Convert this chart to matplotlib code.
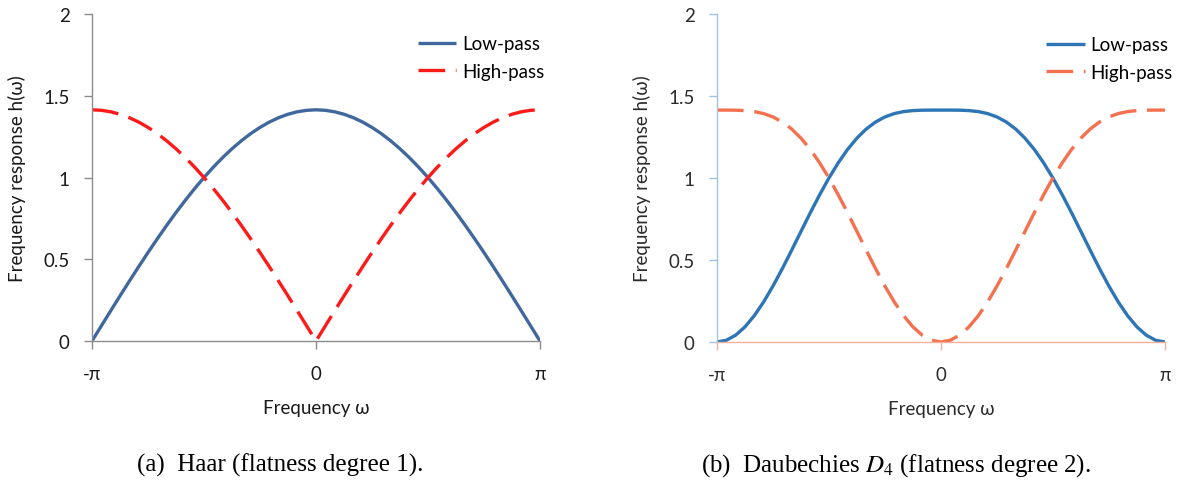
import numpy as np
import matplotlib
matplotlib.use('Agg')
import matplotlib.pyplot as plt

# sample positions, in units of pi (-1 .. 1, step 1/24)
omega = [k / 24 for k in range(-24, 25)]

# Haar filter response
haar_low = [0.0, 0.0925, 0.1846, 0.2759, 0.3660, 0.4546, 0.5412, 0.6255, 0.7071, 0.7857, 0.8609, 0.9325,
            1.0, 1.0633, 1.1220, 1.1759, 1.2247, 1.2684, 1.3066, 1.3392, 1.3660, 1.3870, 1.4021, 1.4112,
            1.4142,
            1.4112, 1.4021, 1.3870, 1.3660, 1.3392, 1.3066, 1.2684, 1.2247, 1.1759, 1.1220, 1.0633, 1.0,
            0.9325, 0.8609, 0.7857, 0.7071, 0.6255, 0.5412, 0.4546, 0.3660, 0.2759, 0.1846, 0.0925, 0.0]
haar_high = [1.4142, 1.4112, 1.4021, 1.3870, 1.3660, 1.3392, 1.3066, 1.2684, 1.2247, 1.1759, 1.1220, 1.0633,
             1.0, 0.9325, 0.8609, 0.7857, 0.7071, 0.6255, 0.5412, 0.4546, 0.3660, 0.2759, 0.1846, 0.0925,
             0.0,
             0.0925, 0.1846, 0.2759, 0.3660, 0.4546, 0.5412, 0.6255, 0.7071, 0.7857, 0.8609, 0.9325, 1.0,
             1.0633, 1.1220, 1.1759, 1.2247, 1.2684, 1.3066, 1.3392, 1.3660, 1.3870, 1.4021, 1.4112, 1.4142]

# Daubechies D4 response
d4_low = [0.0, 0.0105, 0.0415, 0.0920, 0.1604, 0.2442, 0.3408, 0.4468, 0.5590, 0.6738, 0.7877, 0.8974,
          1.0, 1.0930, 1.1746, 1.2434, 1.2990, 1.3418, 1.3725, 1.3930, 1.4051, 1.4112, 1.4136, 1.4142,
          1.4142,
          1.4142, 1.4136, 1.4112, 1.4051, 1.3930, 1.3725, 1.3418, 1.2990, 1.2434, 1.1746, 1.0930, 1.0,
          0.8974, 0.7877, 0.6738, 0.5590, 0.4468, 0.3408, 0.2442, 0.1604, 0.0920, 0.0415, 0.0105, 0.0]
d4_high = [1.4142, 1.4142, 1.4136, 1.4112, 1.4051, 1.3930, 1.3725, 1.3418, 1.2990, 1.2434, 1.1746, 1.0930,
           1.0, 0.8974, 0.7877, 0.6738, 0.5590, 0.4468, 0.3408, 0.2442, 0.1604, 0.0920, 0.0415, 0.0105,
           0.0,
           0.0105, 0.0415, 0.0920, 0.1604, 0.2442, 0.3408, 0.4468, 0.5590, 0.6738, 0.7877, 0.8974, 1.0,
           1.0930, 1.1746, 1.2434, 1.2990, 1.3418, 1.3725, 1.3930, 1.4051, 1.4112, 1.4136, 1.4142, 1.4142]

xtick_vals = [-1, 0, 1]
xtick_labels = ['-π', '0', 'π']
ytick_vals = [0, 0.5, 1, 1.5, 2]
ytick_labels = ['0', '0.5', '1', '1.5', '2']

plt.rcParams['font.family'] = ['Lato', 'DejaVu Sans']

fig = plt.figure(figsize=(11.87, 4.85), dpi=100)

panels = [
    # axes rect, low, high, line colours, y spine, x spine, text colour, caption, caption x, legend pos
    ([0.0775, 0.2948, 0.3774, 0.6742], haar_low, haar_high, '#41689c', '#ff1a1a', '#8c8c8c', '#8c8c8c',
     '#1a1a1a', '(a)  Haar (flatness degree 1).', 0.236, (0.352, 0.925)),
    ([0.6040, 0.2928, 0.3774, 0.6762], d4_low, d4_high, '#2e75b6', '#f4714f', '#9ec3e3', '#f5b09a',
     '#2b2b2b', '(b)  Daubechies $D_4$ (flatness degree 2).', 0.755, (0.8815, 0.923)),
]

for rect, low, high, c_low, c_high, c_yspine, c_xspine, c_text, caption, cap_x, leg_pos in panels:
    ax = fig.add_axes(rect)
    ax.plot(omega, low, color=c_low, lw=2.4, label='Low-pass', solid_capstyle='butt')
    ax.plot(omega, high, color=c_high, lw=2.4, label='High-pass', dashes=(8, 3.2))
    ax.set_xlim(-1, 1)
    ax.set_ylim(0, 2)
    ax.set_xticks(xtick_vals)
    ax.set_xticklabels(xtick_labels)
    ax.set_yticks(ytick_vals)
    ax.set_yticklabels(ytick_labels)
    for side in ['top', 'right']:
        ax.spines[side].set_visible(False)
    ax.spines['left'].set_color(c_yspine)
    ax.spines['bottom'].set_color(c_xspine)
    ax.spines['left'].set_linewidth(1.0)
    ax.spines['bottom'].set_linewidth(1.0)
    ax.tick_params(axis='y', colors=c_yspine, labelcolor=c_text, labelsize=13.5,
                   length=6, width=1.0, direction='out', pad=10)
    ax.tick_params(axis='x', colors=c_xspine, labelcolor=c_text, labelsize=13.5,
                   length=6, width=1.0, direction='out', pad=11)
    ax.set_xlabel('Frequency ω', fontsize=13.5, color=c_text, va='center')
    ax.xaxis.set_label_coords(0.5, -0.204)
    ax.set_ylabel('Frequency response h(ω)', fontsize=13.5, color=c_text, va='center')
    ax.yaxis.set_label_coords(-0.168, 0.5)
    fig.legend(handles=ax.get_lines(), loc='upper left', bbox_to_anchor=leg_pos, frameon=False,
               fontsize=13.5, handlelength=2.05, handletextpad=0.3, labelspacing=0.55,
               borderpad=0, borderaxespad=0)
    fig.text(cap_x, 0.041, caption, ha='center', va='center', fontsize=18,
             family=['Liberation Serif', 'DejaVu Serif'], math_fontfamily='stix')

fig.savefig('out.png', dpi=100, facecolor='white')
